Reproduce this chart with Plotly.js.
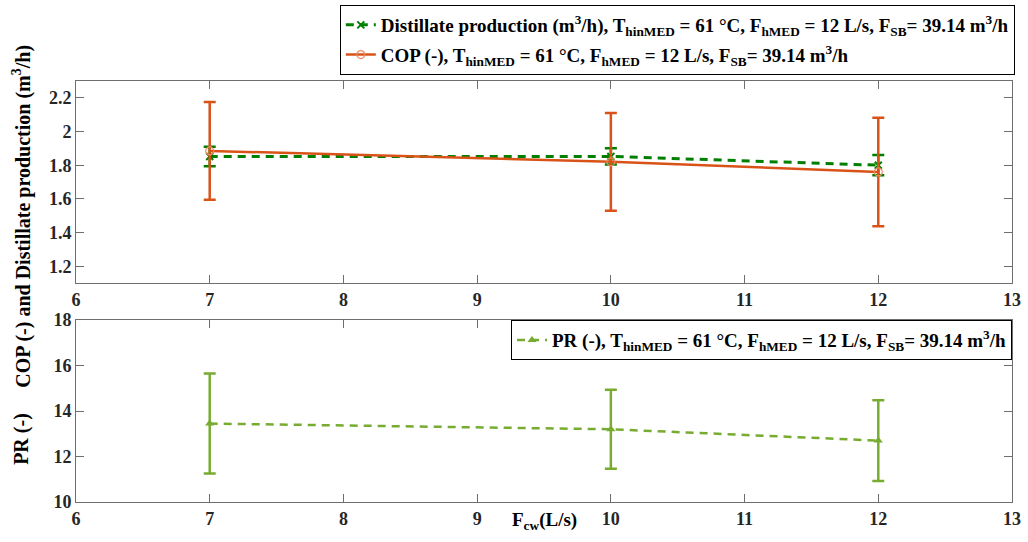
<!DOCTYPE html>
<html>
<head>
<meta charset="utf-8">
<script src="https://cdn.plot.ly/plotly-3.0.1.min.js"></script>
<style>html,body{margin:0;padding:0;background:#fff;}#chart{width:1028px;height:542px;}</style>
</head>
<body>
<div id="chart"></div>
<script>
// ---- data ----
var flowCW = [7, 10, 12];
var distillate = [1.852, 1.852, 1.80];
var distillateErr = [0.058, 0.048, 0.06];
var cop = [1.885, 1.82, 1.76];
var copErr = [0.29, 0.29, 0.322];
var pr = [13.45, 13.2, 12.7];
var prErr = [2.2, 1.74, 1.78];

var xTicks = [6, 7, 8, 9, 10, 11, 12, 13];
var xTickText = ['6', '7', '8', '9', '10', '11', '12', '13'];
var yTopTicks = [1.2, 1.4, 1.6, 1.8, 2.0, 2.2];
var yTopTickText = ['1.2', '1.4', '1.6', '1.8', '2', '2.2'];
var yBotTicks = [10, 12, 14, 16, 18];
var yBotTickText = ['10', '12', '14', '16', '18'];

var nameDist = 'Distillate production (m<sup>3</sup>/h), T<sub>hinMED</sub> = 61 °C, F<sub>hMED</sub> = 12 L/s, F<sub>SB</sub>= 39.14 m<sup>3</sup>/h';
var nameCOP = 'COP (-), T<sub>hinMED</sub> = 61 °C, F<sub>hMED</sub> = 12 L/s, F<sub>SB</sub>= 39.14 m<sup>3</sup>/h';
var namePR = 'PR (-), T<sub>hinMED</sub> = 61 °C, F<sub>hMED</sub> = 12 L/s, F<sub>SB</sub>= 39.14 m<sup>3</sup>/h';

var FONT = 'Liberation Serif, Times New Roman, serif';
var cDist = '#007F00', cCOP = '#D95319', cPR = '#77AC30';

var traces = [
  {x: flowCW, y: distillate, type: 'scatter', mode: 'lines+markers', name: nameDist,
   xaxis: 'x', yaxis: 'y', legend: 'legend', legendgroup: 'dist',
   line: {color: cDist, width: 3, dash: '8px,6px'},
   marker: {symbol: 'x-thin-open', size: 7, color: cDist, line: {width: 2, color: cDist}},
   error_y: {type: 'data', array: distillateErr, visible: true, color: cDist, thickness: 2.5, width: 6}},
  {x: flowCW, y: cop, type: 'scatter', mode: 'lines+markers', name: nameCOP,
   xaxis: 'x', yaxis: 'y', legend: 'legend', legendgroup: 'cop',
   line: {color: cCOP, width: 2.5},
   marker: {symbol: 'circle-open', size: 8, color: '#F08A5D', line: {width: 1.2}},
   error_y: {type: 'data', array: copErr, visible: true, color: cCOP, thickness: 2.5, width: 6}},
  {x: flowCW, y: pr, type: 'scatter', mode: 'lines+markers', name: namePR,
   xaxis: 'x2', yaxis: 'y2', legend: 'legend2',
   line: {color: cPR, width: 2.5, dash: '8px,6px'},
   marker: {symbol: 'triangle-up', size: 8, color: cPR},
   error_y: {type: 'data', array: prErr, visible: true, color: cPR, thickness: 2.5, width: 6}}
];

var tickFont = {family: FONT, size: 18, color: '#262626', weight: 'bold'};
var axisCommon = {
  showline: true, linecolor: '#6e6e6e', linewidth: 1, mirror: 'ticks',
  ticks: 'inside', ticklen: 8, tickcolor: '#6e6e6e', tickwidth: 1,
  showgrid: false, zeroline: false, tickfont: tickFont
};

var legendFont = {family: FONT, size: 19, color: '#000', weight: 'bold'};

var layout = {
  width: 1028, height: 542,
  margin: {l: 76, r: 16, t: 81, b: 40, autoexpand: false},
  paper_bgcolor: '#fff', plot_bgcolor: '#fff',
  font: {family: FONT, color: '#000'},
  xaxis: Object.assign({}, axisCommon, {range: [6, 13], tickvals: xTicks, ticktext: xTickText, anchor: 'y', domain: [0, 1]}),
  yaxis: Object.assign({}, axisCommon, {range: [1.1, 2.3], tickvals: yTopTicks, ticktext: yTopTickText, anchor: 'x', domain: [0.52, 1]}),
  xaxis2: Object.assign({}, axisCommon, {range: [6, 13], tickvals: xTicks, ticktext: xTickText, anchor: 'y2', domain: [0, 1]}),
  yaxis2: Object.assign({}, axisCommon, {range: [10, 18], tickvals: yBotTicks, ticktext: yBotTickText, anchor: 'x2', domain: [0, 0.432]}),
  showlegend: true,
  legend: {x: 1.003, xanchor: 'right', y: 1.1805, yanchor: 'top', bgcolor: '#fff',
    bordercolor: '#000', borderwidth: 1, font: legendFont,
    tracegroupgap: 2, itemwidth: 30},
  legend2: {x: 1.0, xanchor: 'right', y: 0.432, yanchor: 'top', bgcolor: '#fff',
    bordercolor: '#000', borderwidth: 1, font: legendFont,
    itemwidth: 30},
  annotations: [
    {text: 'COP (-) and Distillate production (m<sup>3</sup>/h)', xref: 'paper', yref: 'paper',
     x: -0.0577, y: 0.68, xanchor: 'center', yanchor: 'middle', textangle: -90, showarrow: false,
     font: {family: FONT, size: 20, color: '#000', weight: 'bold'}},
    {text: 'PR (-)', xref: 'paper', yref: 'paper',
     x: -0.0577, y: 0.15, xanchor: 'center', yanchor: 'middle', textangle: -90, showarrow: false,
     font: {family: FONT, size: 20, color: '#000', weight: 'bold'}},
    {text: 'F<sub>cw</sub>(L/s)', xref: 'paper', yref: 'paper',
     x: 0.501, y: -0.045, xanchor: 'center', yanchor: 'middle', showarrow: false,
     font: {family: FONT, size: 19, color: '#000', weight: 'bold'}}
  ]
};

Plotly.newPlot('chart', traces, layout, {displayModeBar: false, staticPlot: true});
</script>
</body>
</html>
